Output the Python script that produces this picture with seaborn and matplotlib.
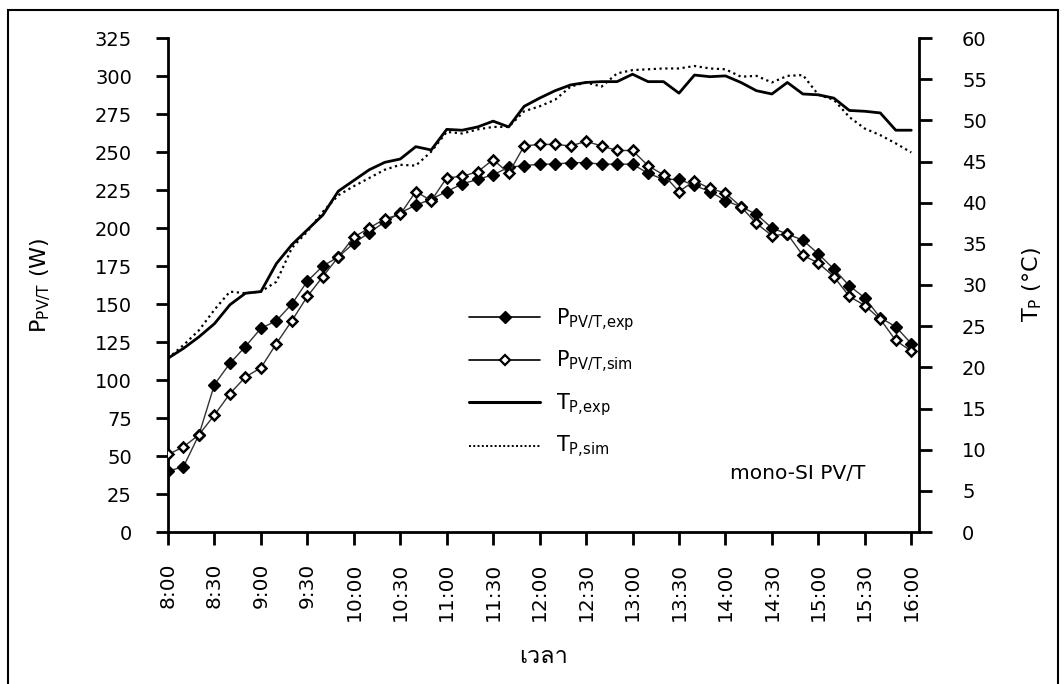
import numpy as np
import pandas as pd
import matplotlib
matplotlib.use("Agg")
import matplotlib.pyplot as plt
from matplotlib import font_manager, ft2font
from matplotlib.patches import Rectangle
from matplotlib.lines import Line2D
import seaborn as sns

# Measurement times (10-minute interval)
times = ["8:00", "8:10", "8:20", "8:30", "8:40", "8:50",
         "9:00", "9:10", "9:20", "9:30", "9:40", "9:50",
         "10:00", "10:10", "10:20", "10:30", "10:40", "10:50",
         "11:00", "11:10", "11:20", "11:30", "11:40", "11:50",
         "12:00", "12:10", "12:20", "12:30", "12:40", "12:50",
         "13:00", "13:10", "13:20", "13:30", "13:40", "13:50",
         "14:00", "14:10", "14:20", "14:30", "14:40", "14:50",
         "15:00", "15:10", "15:20", "15:30", "15:40", "15:50",
         "16:00"]

# PV/T electrical power, W
p_exp = [40, 43, 64, 97, 111, 122, 134, 139, 150, 165, 175, 181,
         190, 197, 204, 210, 215, 219, 224, 229, 232, 235, 240, 241,
         242, 242, 243, 243, 242, 242, 242, 236, 232, 232, 228, 224,
         218, 214, 209, 200, 196, 192, 183, 173, 162, 154, 141, 135,
         124]
p_sim = [51, 56, 64, 77, 91, 102, 108, 124, 139, 155, 168, 181,
         194, 200, 206, 209, 224, 218, 233, 234, 237, 245, 236, 254,
         255, 255, 254, 257, 254, 251, 251, 241, 235, 224, 231, 226,
         223, 214, 203, 195, 196, 182, 177, 168, 155, 149, 140, 126,
         119]

# Panel temperature, deg C
t_exp = [21.1, 22.3, 23.7, 25.3, 27.6, 29.0, 29.2, 32.6, 34.9, 36.7,
         38.5, 41.4, 42.7, 44.0, 44.9, 45.3, 46.8, 46.4, 48.9, 48.8,
         49.2, 49.9, 49.2, 51.7, 52.7, 53.6, 54.3, 54.6, 54.7, 54.7,
         55.6, 54.7, 54.7, 53.3, 55.5, 55.3, 55.4, 54.6, 53.6, 53.2,
         54.6, 53.2, 53.1, 52.7, 51.2, 51.1, 50.9, 48.8, 48.8]
t_sim = [21.1, 22.7, 24.5, 27.0, 29.2, 29.0, 29.2, 30.4, 34.5, 36.5,
         38.9, 40.9, 42.0, 43.0, 44.0, 44.6, 44.5, 46.2, 48.6, 48.4,
         48.9, 49.2, 49.2, 51.1, 51.7, 52.5, 54.1, 54.6, 54.1, 55.7,
         56.1, 56.2, 56.3, 56.3, 56.6, 56.3, 56.2, 55.3, 55.4, 54.6,
         55.4, 55.5, 53.1, 52.5, 50.4, 49.0, 48.2, 47.2, 46.1]

tick_labels = ["8:00", "8:30", "9:00", "9:30", "10:00", "10:30", "11:00",
               "11:30", "12:00", "12:30", "13:00", "13:30", "14:00",
               "14:30", "15:00", "15:30", "16:00"]
p_ticks = [0, 25, 50, 75, 100, 125, 150, 175, 200, 225, 250, 275, 300, 325]
t_ticks = [0, 5, 10, 15, 20, 25, 30, 35, 40, 45, 50, 55, 60]


def to_minutes(s):
    h, m = s.split(":")
    return (int(h) - 8) * 60 + int(m)


def thai_family():
    """Return the name of an installed font that has Thai glyphs."""
    for f in font_manager.fontManager.ttflist:
        try:
            cmap = ft2font.FT2Font(f.fname).get_charmap()
        except Exception:
            continue
        if 0x0E40 in cmap and 0x0E25 in cmap:
            return f.name
    return None


df = pd.DataFrame({"t": [to_minutes(s) for s in times],
                   "p_exp": p_exp, "p_sim": p_sim,
                   "t_exp": t_exp, "t_sim": t_sim})

sns.set_theme(style="white")
plt.rcParams["font.family"] = ["DejaVu Sans"]
plt.rcParams["mathtext.fontset"] = "dejavusans"
plt.rcParams["text.color"] = "black"
plt.rcParams["axes.labelcolor"] = "black"

fig = plt.figure(figsize=(10.64, 6.84), dpi=100)
ax = fig.add_axes([168 / 1064, 1 - 532 / 684, (919 - 168) / 1064, (532 - 38) / 684])
ax2 = ax.twinx()

# Power curves (left axis)
sns.lineplot(data=df, x="t", y="p_exp", ax=ax, color="#333333", linewidth=1.0,
             marker="D", markersize=6, markerfacecolor="black",
             markeredgecolor="black", markeredgewidth=1.0, zorder=3)
sns.lineplot(data=df, x="t", y="p_sim", ax=ax, color="#333333", linewidth=1.0,
             marker="D", markersize=5.5, markerfacecolor="white",
             markeredgecolor="black", markeredgewidth=1.8, zorder=4)

# Panel temperature curves (right axis)
sns.lineplot(data=df, x="t", y="t_exp", ax=ax2, color="black", linewidth=2.0)
sns.lineplot(data=df, x="t", y="t_sim", ax=ax2, color="black", linewidth=1.6,
             linestyle=(0, (1, 1.6)))

xt = [to_minutes(s) for s in tick_labels]
ax.set_xlim(0, 485)
ax.set_xticks(xt)
ax.set_xticklabels(tick_labels, rotation=90, fontsize=14.5)
ax.set_ylim(0, 325)
ax.set_yticks(p_ticks)
ax.set_yticklabels([str(v) for v in p_ticks], fontsize=14)
ax2.set_ylim(0, 60)
ax2.set_yticks(t_ticks)
ax2.set_yticklabels([str(v) for v in t_ticks], fontsize=14)

for a in (ax, ax2):
    a.grid(False)
    a.spines["top"].set_visible(False)
    for s in a.spines.values():
        s.set_color("black")
        s.set_linewidth(2.0)
ax.spines["right"].set_visible(False)
ax2.spines["left"].set_visible(False)
ax2.spines["bottom"].set_visible(False)

ax.tick_params(axis="y", direction="out", length=9, width=2, pad=17,
               left=True, colors="black")
ax.tick_params(axis="x", direction="out", length=9, width=2, pad=13,
               bottom=True, colors="black")
ax2.tick_params(axis="y", direction="out", length=9, width=2, pad=22,
                right=True, colors="black")
for lbl in ax2.get_yticklabels():
    lbl.set_horizontalalignment("left")

ax.set_ylabel(r"P$_{\mathregular{PV/T}}$ (W)", fontsize=16, labelpad=30)
ax2.set_ylabel(r"T$_{\mathregular{P}}$ (°C)", fontsize=16, labelpad=24)

tfam = thai_family()
xlab_family = [tfam, "DejaVu Sans"] if tfam else ["DejaVu Sans"]
ax.set_xlabel("เวลา", fontsize=17, labelpad=17, family=xlab_family)

ax2.text(0.749, 0.118, "mono-SI PV/T", transform=ax2.transAxes,
         fontsize=14.5, ha="left", va="center")

handles = [
    Line2D([], [], color="black", linewidth=1.2, marker="D", markersize=6,
           markerfacecolor="black", markeredgecolor="black"),
    Line2D([], [], color="black", linewidth=1.2, marker="D", markersize=5,
           markerfacecolor="white", markeredgecolor="black", markeredgewidth=1.6),
    Line2D([], [], color="black", linewidth=2.2),
    Line2D([], [], color="black", linewidth=1.4, linestyle=(0, (1, 1.2))),
]
labels = [r"P$_{\mathregular{PV/T{,}exp}}$", r"P$_{\mathregular{PV/T{,}sim}}$",
          r"T$_{\mathregular{P{,}exp}}$", r"T$_{\mathregular{P{,}sim}}$"]
ax2.legend(handles, labels, loc="upper left", bbox_to_anchor=(0.376, 0.496),
           frameon=False, fontsize=15, handlelength=3.4, handletextpad=0.75,
           labelspacing=0.78)

fig.patches.append(Rectangle((8 / 1064, -0.01), 1050 / 1064, 0.003 + 1 - 5 / 684,
                             transform=fig.transFigure, fill=False,
                             edgecolor="black", linewidth=1.5))

fig.savefig("out.png", dpi=100)
